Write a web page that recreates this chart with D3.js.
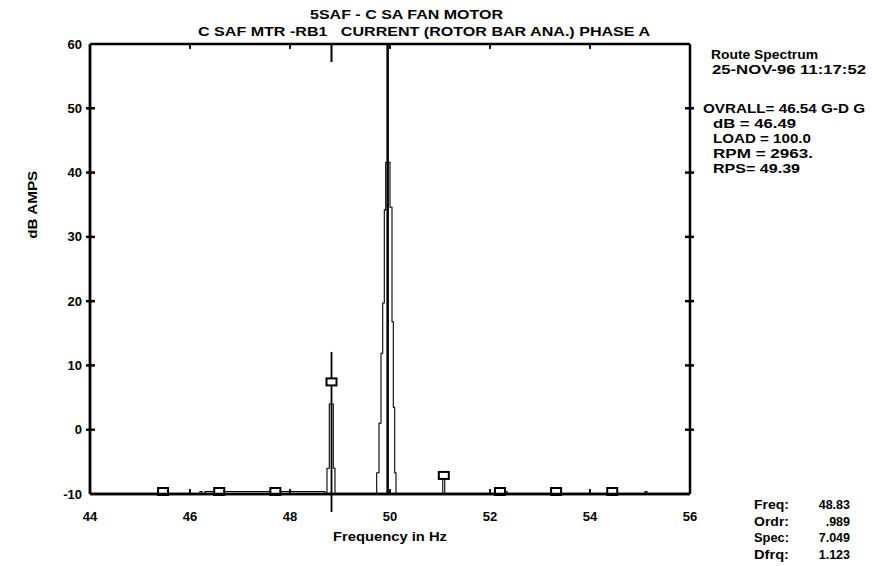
<!DOCTYPE html>
<html>
<head>
<meta charset="utf-8">
<script src="https://cdn.jsdelivr.net/npm/d3@7/dist/d3.min.js"></script>
<style>
  html, body { margin: 0; padding: 0; background: #fff; }
  svg { display: block; }
  text { font-family: "Liberation Sans", Arial, sans-serif; font-weight: bold; fill: #000; white-space: pre; }
</style>
</head>
<body>
<svg id="chart" width="872" height="566"></svg>
<script>
// ---------- data ----------
const titleLines = ["5SAF - C SA FAN MOTOR", "C SAF MTR -RB1   CURRENT (ROTOR BAR ANA.) PHASE A"];
const xTicks = [44, 46, 48, 50, 52, 54, 56];
const yTicks = [-10, 0, 10, 20, 30, 40, 50, 60];
const xLabel = "Frequency in Hz";
const yLabel = "dB AMPS";

// spectrum (step trace, dB), floor is -10
const specFreq = [44.00, 46.20, 46.24, 46.30, 48.70, 48.74, 48.786, 48.866, 48.90,
                  49.70, 49.734, 49.78, 49.82, 49.854, 49.886, 49.914, 50.00, 50.04, 50.066, 50.094, 50.12,
                  51.055, 51.095, 52.30, 52.34, 55.10, 55.14, 56.00];
const specDb   = [-10, -9.6, -10, -9.6, -10, -6, 4.0, -6, -10,
                  -10, -6.7, 1.0, 11.9, 19.7, 34.2, 41.6, 34.6, 16.8, 3.5, -6.7, -10,
                  -7.5, -10, -9.6, -10, -9.6, -10, -10];

// harmonic cursor markers (Dfrq = 1.123)
const markerFreq = [45.461, 46.584, 47.707, 48.830, 51.076, 52.199, 53.322, 54.445];
const markerDb   = [-10, -10, -10, 7.049, -7.5, -10, -10, -10];
const peakMarkerFreq = 49.953;          // marker drawn as full-height line
const cursorFreq = 48.83;
const cursorTopDb = 12.1;
const cursorBottomDb = -12.8;

const infoLines = [
  {t: "Route Spectrum", x: 711, y: 59, w: 107},
  {t: "25-NOV-96 11:17:52", x: 712, y: 74, w: 154},
  {t: "OVRALL= 46.54 G-D G", x: 703, y: 113, w: 162},
  {t: "dB = 46.49", x: 713, y: 128, w: 83},
  {t: "LOAD = 100.0", x: 713, y: 143, w: 98},
  {t: "RPM = 2963.", x: 713, y: 158, w: 100},
  {t: "RPS= 49.39", x: 713, y: 173, w: 87}
];
const readoutLabels = ["Freq:", "Ordr:", "Spec:", "Dfrq:"];
const readoutValues = ["48.83", ".989", "7.049", "1.123"];

// ---------- layout ----------
const svg = d3.select("#chart");
const pL = 90, pR = 690, pT = 44, pB = 494;
const x = d3.scaleLinear().domain([44, 56]).range([pL, pR]);
const y = d3.scaleLinear().domain([-10, 60]).range([pB, pT]);

// titles
svg.append("text").attr("x", 310).attr("y", 19).attr("font-size", 12.5)
  .attr("textLength", 193).attr("lengthAdjust", "spacingAndGlyphs").text(titleLines[0]);
svg.append("text").attr("x", 198).attr("y", 36).attr("font-size", 12.5)
  .attr("textLength", 452).attr("lengthAdjust", "spacingAndGlyphs").text(titleLines[1]);

// spectrum trace
const line = d3.line().x((d, i) => x(specFreq[i])).y(d => y(d)).curve(d3.curveStepAfter);
svg.append("path").datum(specDb).attr("d", line)
  .attr("fill", "none").attr("stroke", "#000").attr("stroke-width", 1.1);

// axes frame
const frame = svg.append("g").attr("stroke", "#000").attr("fill", "none");
frame.append("line").attr("x1", pL).attr("x2", pR).attr("y1", pT).attr("y2", pT).attr("stroke-width", 2.5);
frame.append("line").attr("x1", pL).attr("x2", pR).attr("y1", pB).attr("y2", pB).attr("stroke-width", 2.5);
frame.append("line").attr("x1", pL).attr("x2", pL).attr("y1", pT).attr("y2", pB).attr("stroke-width", 2.8);
frame.append("line").attr("x1", pR).attr("x2", pR).attr("y1", pT).attr("y2", pB).attr("stroke-width", 2.5);

// y ticks (left and right, crossing)
const innerY = yTicks.filter(v => v > -10 && v < 60);
frame.selectAll(".ytl").data(innerY).join("line").attr("class", "ytl")
  .attr("x1", pL - 4).attr("x2", pL + 5).attr("y1", d => y(d)).attr("y2", d => y(d)).attr("stroke-width", 2.5);
frame.selectAll(".ytr").data(innerY).join("line").attr("class", "ytr")
  .attr("x1", pR - 5).attr("x2", pR + 4).attr("y1", d => y(d)).attr("y2", d => y(d)).attr("stroke-width", 2.5);
// x ticks (top and bottom, inward)
const innerX = xTicks.filter(v => v > 44 && v < 56);
frame.selectAll(".xtb").data(innerX).join("line").attr("class", "xtb")
  .attr("x1", d => x(d)).attr("x2", d => x(d)).attr("y1", pB).attr("y2", pB - 5).attr("stroke-width", 1.8);
frame.selectAll(".xtt").data(innerX).join("line").attr("class", "xtt")
  .attr("x1", d => x(d)).attr("x2", d => x(d)).attr("y1", pT).attr("y2", pT + 5).attr("stroke-width", 1.8);

// y tick labels
svg.selectAll(".ylab").data(yTicks).join("text").attr("class", "ylab")
  .attr("x", pL - 8).attr("y", d => y(d)).attr("dy", "0.35em")
  .attr("text-anchor", "end").attr("font-size", 13).text(d => d);
// x tick labels
svg.selectAll(".xlab").data(xTicks).join("text").attr("class", "xlab")
  .attr("x", d => x(d)).attr("y", 521)
  .attr("text-anchor", "middle").attr("font-size", 13).text(d => d);

// axis titles
svg.append("text").attr("x", x(50)).attr("y", 541).attr("text-anchor", "middle")
  .attr("font-size", 12).attr("textLength", 114).attr("lengthAdjust", "spacingAndGlyphs").text(xLabel);
svg.append("text").attr("transform", `translate(37, ${y(35)}) rotate(-90)`)
  .attr("text-anchor", "middle").attr("font-size", 12).attr("textLength", 68)
  .attr("lengthAdjust", "spacingAndGlyphs").text(yLabel);

// cursor line and top indicator
svg.append("line").attr("x1", x(cursorFreq)).attr("x2", x(cursorFreq))
  .attr("y1", y(cursorTopDb)).attr("y2", y(cursorBottomDb))
  .attr("stroke", "#000").attr("stroke-width", 1.8);
svg.append("line").attr("x1", x(cursorFreq)).attr("x2", x(cursorFreq))
  .attr("y1", pT).attr("y2", pT + 18).attr("stroke", "#000").attr("stroke-width", 2);

// full height marker line at the main peak
svg.append("line").attr("x1", x(peakMarkerFreq)).attr("x2", x(peakMarkerFreq))
  .attr("y1", pT).attr("y2", pB).attr("stroke", "#000").attr("stroke-width", 2.5);

// square markers
svg.selectAll(".mk").data(markerFreq).join("rect").attr("class", "mk")
  .attr("x", d => x(d) - 5)
  .attr("y", (d, i) => y(markerDb[i]) - 6)
  .attr("width", 10).attr("height", 7)
  .attr("fill", "#fff").attr("stroke", "#000").attr("stroke-width", 2);
// redraw bottom axis over markers
svg.append("line").attr("x1", pL).attr("x2", pR).attr("y1", pB).attr("y2", pB)
  .attr("stroke", "#000").attr("stroke-width", 2.5);

// info block
svg.selectAll(".info").data(infoLines).join("text").attr("class", "info")
  .attr("x", d => d.x).attr("y", d => d.y).attr("font-size", 12.5)
  .attr("textLength", d => d.w).attr("lengthAdjust", "spacingAndGlyphs").text(d => d.t);

// readout block
svg.selectAll(".rl").data(readoutLabels).join("text").attr("class", "rl")
  .attr("x", 754).attr("y", (d, i) => 509 + i * 16.7).attr("font-size", 12.5)
  .attr("textLength", 35).attr("lengthAdjust", "spacingAndGlyphs").text(d => d);
svg.selectAll(".rv").data(readoutValues).join("text").attr("class", "rv")
  .attr("x", 850).attr("y", (d, i) => 509 + i * 16.7).attr("text-anchor", "end")
  .attr("font-size", 12.5).text(d => d);
</script>
</body>
</html>
